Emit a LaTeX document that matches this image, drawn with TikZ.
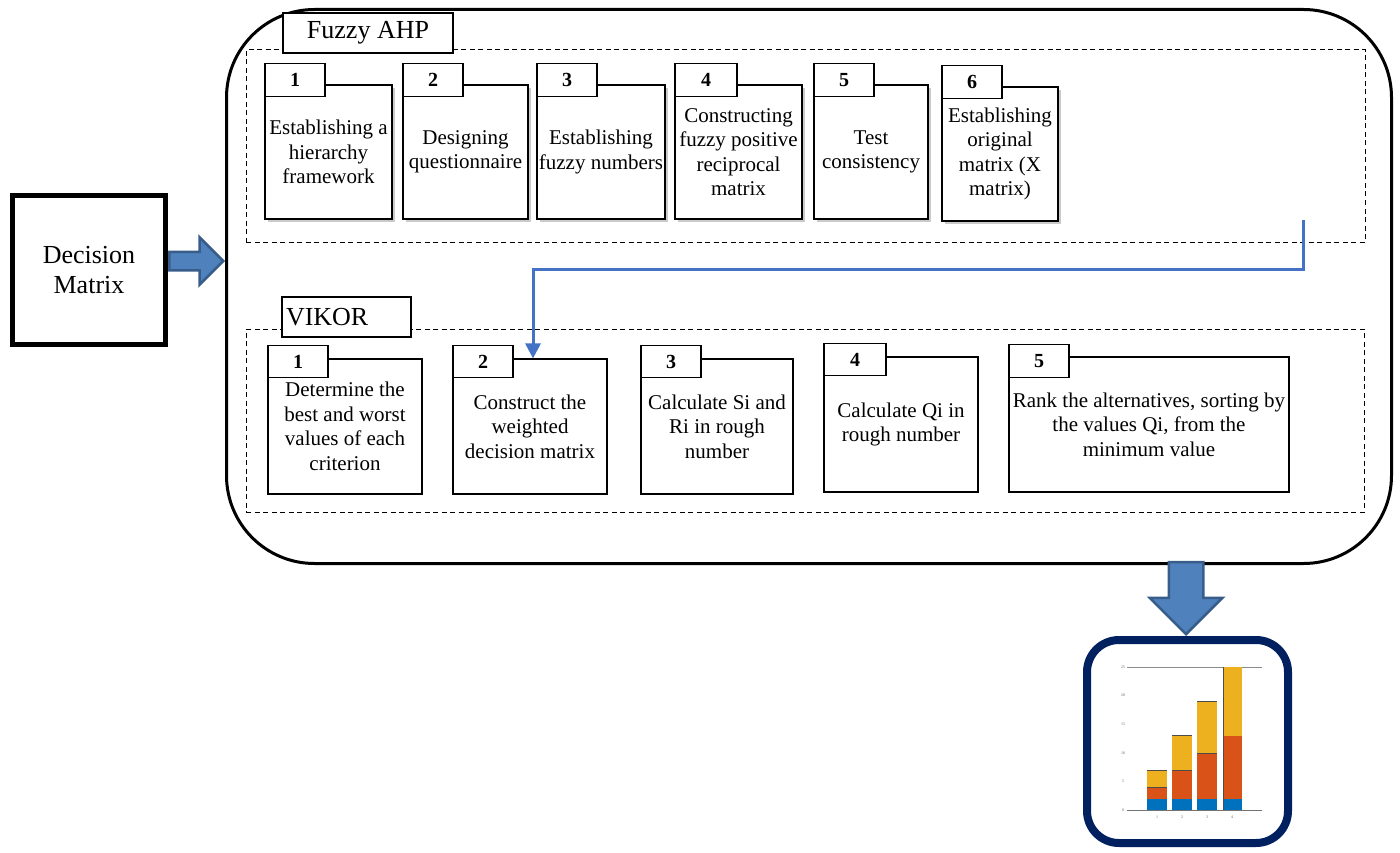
\documentclass[tikz,border=0pt]{standalone}
\usepackage{fontspec}
\setmainfont{Liberation Serif}
\usetikzlibrary{positioning, shapes.arrows, shadows, arrows.meta}
\definecolor{arrowblue}{RGB}{79,129,189}
\definecolor{arrowedge}{RGB}{56,93,138}
\definecolor{linkblue}{RGB}{68,114,196}
\definecolor{navy}{RGB}{0,32,96}
\definecolor{barblue}{RGB}{0,114,189}
\definecolor{barred}{RGB}{217,83,25}
\definecolor{baryellow}{RGB}{237,177,32}

\begin{document}
\begin{tikzpicture}[x=1pt, y=-1pt,
  stepbox/.style = {draw, fill=white, line width=1.2pt, align=center, inner sep=1pt, minimum height=134pt, font=\fontsize{21}{24.5}\selectfont},
  shadowed/.style = {drop shadow={shadow xshift=2.5pt, shadow yshift=-3pt, fill=black!60, opacity=0.35}},
  tabbox/.style = {draw, fill=white, line width=1.2pt, minimum width=60pt, minimum height=33pt, inner sep=0pt, font=\fontsize{20}{24}\selectfont\bfseries},
  zone/.style = {draw, line width=1pt, dash pattern=on 5pt off 3.5pt},
  title/.style = {draw, fill=white, line width=1.2pt, minimum height=40pt, inner sep=4pt, font=\fontsize{26}{30}\selectfont},
  bigarrow/.style = {single arrow, draw=arrowedge, fill=arrowblue, line width=2.5pt, single arrow head indent=0pt},
  link/.style = {draw=linkblue, line width=3pt, -{Triangle[length=15pt,width=15pt]}},
  tick/.style = {font=\fontsize{4}{5}\selectfont, text=black!60, inner sep=0pt}]
\useasboundingbox (0,0) rectangle (1400,853);

\node[draw, line width=5pt, minimum width=153pt, minimum height=149pt, align=center, font=\fontsize{26}{30}\selectfont] (dm) at (89,270) {Decision\\Matrix};
\node[draw, line width=3pt, rounded corners=88pt, minimum width=1165pt, minimum height=554pt] (outer) at (809,286.5) {};
\node[bigarrow, anchor=tail, inner sep=8pt, minimum height=54pt, minimum width=47pt, single arrow head extend=14.5pt] (rarrow) at ([yshift=9pt]dm.east) {};

\node[zone, minimum width=1119pt, minimum height=192pt] (ahp) at (805.5,146) {};
\node[title, minimum width=170pt] (ahptitle) at (368,33) {Fuzzy AHP};

\node[stepbox, shadowed, minimum width=127pt] (a1) at (328.5,152) {Establishing a\\hierarchy\\framework};
\node[stepbox, shadowed, minimum width=125pt] (a2) at (465.5,152) {Designing\\questionnaire};
\node[stepbox, shadowed, minimum width=128pt] (a3) at (601,152) {Establishing\\fuzzy numbers};
\node[stepbox, shadowed, minimum width=127pt] (a4) at (738.5,152) {Constructing\\fuzzy positive\\reciprocal\\matrix};
\node[stepbox, shadowed, minimum width=114pt] (a5) at (871,152) {Test\\consistency};
\node[stepbox, shadowed, minimum width=116pt] (a6) at (1000,154) {Establishing\\original\\matrix (X\\matrix)};
\node[tabbox, anchor=south west] (ta1) at ([yshift=-13pt]a1.north west) {1};
\node[tabbox, anchor=south west] (ta2) at ([yshift=-13pt]a2.north west) {2};
\node[tabbox, anchor=south west] (ta3) at ([yshift=-13pt]a3.north west) {3};
\node[tabbox, anchor=south west, minimum width=62pt] (ta4) at ([yshift=-13pt]a4.north west) {4};
\node[tabbox, anchor=south west] (ta5) at ([yshift=-13pt]a5.north west) {5};
\node[tabbox, anchor=south west] (ta6) at ([yshift=-13pt]a6.north west) {6};

\node[zone, minimum width=1118pt, minimum height=183pt] (vik) at (805,420.5) {};
\node[title, minimum width=129pt, text width=121pt, align=left] (viktitle) at (346.5,317) {VIKOR};

\node[stepbox, minimum width=154pt, minimum height=135pt] (v1) at (345,426.5) {Determine the\\best and worst\\values of each\\criterion};
\node[stepbox, minimum width=154pt, minimum height=135pt] (v2) at (530,426.5) {Construct the\\weighted\\decision matrix};
\node[stepbox, minimum width=152pt, minimum height=135pt] (v3) at (717,426.5) {Calculate Si and\\Ri in rough\\number};
\node[stepbox, minimum width=154pt, minimum height=135pt] (v4) at (901,424.5) {Calculate Qi in\\rough number};
\node[stepbox, minimum width=280pt, minimum height=135pt] (v5) at (1149,424.5) {Rank the alternatives, sorting by\\the values Qi, from the\\minimum value};
\node[tabbox, anchor=south west, minimum height=32pt] (tv1) at ([yshift=-20pt]v1.north west) {1};
\node[tabbox, anchor=south west, minimum height=32pt] (tv2) at ([yshift=-20pt]v2.north west) {2};
\node[tabbox, anchor=south west, minimum height=32pt] (tv3) at ([yshift=-20pt]v3.north west) {3};
\node[tabbox, anchor=south west, minimum height=32pt, minimum width=62pt] (tv4) at ([yshift=-20pt]v4.north west) {4};
\node[tabbox, anchor=south west, minimum height=33pt] (tv5) at ([yshift=-22pt]v5.north west) {5};

\coordinate (lnk) at (1303,220);
\coordinate (bend) at (1303,269);
\draw[link] (lnk) -- (bend) -| ([xshift=3pt]v2.north);

\node[draw=navy, line width=8pt, rounded corners=32pt, minimum width=201pt, minimum height=203pt] (res) at (1187.5,741.5) {};
\node[bigarrow, shape border rotate=270, anchor=tip, inner sep=16pt, minimum height=72pt, minimum width=72pt, single arrow head extend=19pt] (darrow) at ([xshift=-1.5pt]res.north) {};

\begin{scope}[shift={(0,810)}, y=5.72pt]
\draw[black!45, line width=0.6pt] (1127,25) -- (1262,25);
\fill[barblue] (1147,0) rectangle (1167,2);
\fill[barred] (1147,2) rectangle (1167,4);
\fill[baryellow] (1147,4) rectangle (1167,7);
\fill[barblue] (1172,0) rectangle (1192,2);
\fill[barred] (1172,2) rectangle (1192,7);
\fill[baryellow] (1172,7) rectangle (1192,13);
\fill[barblue] (1197,0) rectangle (1217,2);
\fill[barred] (1197,2) rectangle (1217,10);
\fill[baryellow] (1197,10) rectangle (1217,19);
\fill[barblue] (1223,0) rectangle (1242,2);
\fill[barred] (1223,2) rectangle (1242,13);
\fill[baryellow] (1223,13) rectangle (1242,25);
\draw[black!70, line width=0.6pt] (1147,4) -- (1167,4) (1147,7) -- (1167,7) (1172,7) -- (1192,7) (1172,13) -- (1192,13) (1197,10) -- (1217,10) (1197,19) -- (1217,19) (1223,0) -- (1223,25);
\draw[black!55, line width=0.6pt] (1127,0) -- (1262,0);
\node[tick] at (1123,0) {0};
\node[tick] at (1123,5) {5};
\node[tick] at (1123,10) {10};
\node[tick] at (1123,15) {15};
\node[tick] at (1123,20) {20};
\node[tick] at (1123,25) {25};
\node[tick] at (1157,-1.3) {1};
\node[tick] at (1182,-1.3) {2};
\node[tick] at (1207,-1.3) {3};
\node[tick] at (1232,-1.3) {4};
\end{scope}
\end{tikzpicture}
\end{document}
